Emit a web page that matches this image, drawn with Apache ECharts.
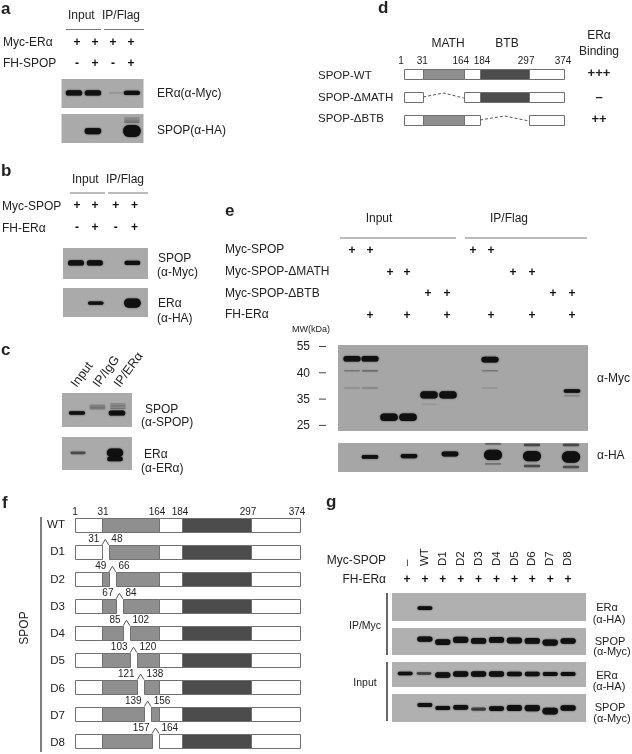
<!DOCTYPE html>
<html><head><meta charset="utf-8">
<style>html,body{margin:0;padding:0;background:#fff}#c{width:632px;height:754px;filter:blur(.4px)}</style>
<script src="https://cdn.jsdelivr.net/npm/echarts@6/dist/echarts.min.js"></script>
</head><body><div id="c"></div>
<script>
// ---------- DATA ----------
// Bands: [lane, vertical position in blot (% from top), band intensity 0..1]
const bandsA1 = [[0,48,.42],[.98,48,.42],[2.2,48,.03],[3,48,.32]];
const bandsA2 = [[.98,59,.5],[3,59,1],[3,14,.06],[3,21,.07],[3,28,.1]];
const bandsB1 = [[0,48,.42],[1,48,.42],[3,48,.32]];
const bandsB2 = [[1.05,52,.25],[3,52,.75]];
const bandsC1 = [[0,59,.27],[1.05,36,.06],[1.05,41,.09],[1.05,46,.08],[2.05,59,.4],[2.1,32,.05],[2.1,38,.08],[2.1,45,.09]];
const bandsC2 = [[0,48,.18],[2,48,.7],[2,67,.35]];
const bandsE1 = [[0,16,.45],[0,30,.08],[0,50,.04],[.9,16,.45],[.9,30,.1],[.9,50,.06],
  [1.85,84,.62],[2.8,84,.62],[3.85,58,.58],[4.8,58,.58],[3.85,69,.02],
  [6.9,17,.45],[6.9,30,.08],[6.9,50,.03],[11,53.5,.25],[11,59,.06]];
const bandsE2 = [[.9,48,.28],[2.85,45,.33],[4.9,38,.38],
  [7.05,41,.85],[7.05,3,.12],[7.05,72,.09],[9,45,.85],[9,7,.18],[9,79,.18],
  [10.95,48,.95],[10.95,7,.18],[10.95,83,.17]];
const bandsG1 = [[1,54,.3]];
const bandsG2 = [[1,41,.42],[2,52,.45],[3,44,.48],[4,48,.45],[5,44,.45],[6,46,.48],[7,48,.45],[8,54,.5],[9,48,.42]];
const bandsG3 = [[-.1,46,.25],[.95,46,.2],[2,52,.42],[3,48,.42],[4,48,.42],[5,48,.42],[6,48,.36],[7,48,.36],[8,48,.32],[9,48,.32]];
const bandsG4 = [[1,39,.3],[2,50,.3],[3,48,.36],[4,54,.22],[5,52,.36],[6,50,.46],[7,50,.5],[8,61,.55],[9,50,.42]];

// Treatment grids
const rowsA = ['Myc-ERα','FH-SPOP'];
const signsA = [['+','+','+','+'],['-','+','-','+']];
const rowsB = ['Myc-SPOP','FH-ERα'];
const signsB = [['+','+','+','+'],['-','+','-','+']];
const rowsE = ['Myc-SPOP','Myc-SPOP-ΔMATH','Myc-SPOP-ΔBTB','FH-ERα'];
const signsE = [
  ['+','+','','','','','+','+','','','',''],
  ['','','+','+','','','','','+','+','',''],
  ['','','','','+','+','','','','','+','+'],
  ['','+','','+','','+','','+','','+','','+']];
const lanesG = ['–','WT','D1','D2','D3','D4','D5','D6','D7','D8'];
const signsG = [['+','+','+','+','+','+','+','+','+','+']];
const mwTicks = ['55','40','35','25'];

// SPOP constructs (residues)
const residueMarks = [1,31,164,184,297,374];
const mathDomain = [31,164];
const btbDomain = [184,297];
const rowsD = ['SPOP-WT','SPOP-ΔMATH','SPOP-ΔBTB'];
const deletionsD = [null,[31,164],[184,297]];
const bindingD = ['+++','–','++'];
const rowsF = ['WT','D1','D2','D3','D4','D5','D6','D7','D8'];
const deletionsF = [null,[31,48],[49,66],[67,84],[85,102],[103,120],[121,138],[139,156],[157,164]];

// ---------- SCALES / BUILDERS ----------
const FONT = '"Liberation Sans", Arial, sans-serif';
const INK = '#222';
// The schematic is not drawn to scale: residue -> schematic unit (0..225)
const schemStops = [[1,0],[31,27],[156,76],[164,84],[184,107],[297,176],[374,225]];
function schem(r){
  for(let i=1;i<schemStops.length;i++){
    const a=schemStops[i-1],b=schemStops[i];
    if(r<=b[0]) return a[1]+(r-a[0])*(b[1]-a[1])/(b[0]-a[0]);
  }
  return 225;
}
const grid=[],xAxis=[],yAxis=[],series=[],graphic=[];
function addGrid(box,xr,yr,bg){
  const i=grid.length;
  grid.push({left:box[0],top:box[1],width:box[2],height:box[3],show:!!bg,backgroundColor:bg||'transparent',borderWidth:0,containLabel:false});
  xAxis.push({type:'value',gridIndex:i,min:xr[0],max:xr[1],show:false});
  yAxis.push({type:'value',gridIndex:i,min:yr[0],max:yr[1],inverse:true,show:false});
  return i;
}
function blot(box,lane0,pitch,bands,bg){
  const i=addGrid(box,[(box[0]-lane0)/pitch,(box[0]+box[2]-lane0)/pitch],[0,100],bg||'#aaaaaa');
  series.push({type:'custom',xAxisIndex:i,yAxisIndex:i,silent:true,data:bands,
    renderItem(p,api){
      const c=api.coord([api.value(0),api.value(1)]);
      const I=api.value(2);
      const w=pitch*(.8+.12*I), h=Math.max(1.6,.5+11.5*I);
      const op=I>=.25?1:Math.max(.05,I/.25*.6);
      return {type:'rect',shape:{x:c[0]-w/2,y:c[1]-h/2,width:w,height:h,r:h/2},
        style:{fill:'#101010',opacity:op,shadowBlur:1.6,shadowColor:'rgba(10,10,10,.9)'}};
    }});
}
function signs(x0,pitch,y0,rowPitch,table,lanes,size){
  const n=table[0].length;
  const i=addGrid([x0-pitch,y0-rowPitch/2,pitch*(n+1),rowPitch*table.length],[-1,n],[-.5,table.length-.5]);
  const data=[];
  table.forEach((row,r)=>row.forEach((s,l)=>{ if(s) data.push([lanes?lanes[l]:l,r,s]); }));
  series.push({type:'custom',xAxisIndex:i,yAxisIndex:i,silent:true,data,
    renderItem(p,api){
      const c=api.coord([api.value(0),api.value(1)]);
      return {type:'text',style:{text:data[p.dataIndex][2],x:c[0],y:c[1],align:'center',verticalAlign:'middle',
        font:'bold '+(size||12)+'px '+FONT,fill:'#111'}};
    }});
}
function segmentsFor(del){
  const base=[[1,31,0],[mathDomain[0],mathDomain[1],1],[164,184,0],[btbDomain[0],btbDomain[1],2],[297,374,0]];
  if(!del) return base;
  const out=[];
  base.forEach(s=>{
    if(del[1]<=s[0]||del[0]>=s[1]){out.push(s);return;}
    if(del[0]>s[0]) out.push([s[0],del[0],s[2]]);
    if(del[1]<s[1]) out.push([del[1],s[1],s[2]]);
  });
  return out;
}
const KIND=['#ffffff','#8f8f8f','#4c4c4c'];
function diagram(box,rows,dels,barH,opt){
  const i=addGrid(box,[0,225],[-.5,rows.length-.5]);
  const segs=[];
  dels.forEach((d,r)=>segmentsFor(d).forEach(s=>segs.push([schem(s[0]),schem(s[1]),r,s[2]])));
  series.push({type:'custom',xAxisIndex:i,yAxisIndex:i,silent:true,data:segs,
    renderItem(p,api){
      const a=api.coord([api.value(0),api.value(2)]),b=api.coord([api.value(1),api.value(2)]);
      return {type:'rect',shape:{x:Math.round(a[0])+.5,y:Math.round(a[1]-barH/2)+.5,width:Math.round(b[0]-a[0]),height:barH},
        style:{fill:KIND[api.value(3)],stroke:'#707070',lineWidth:1}};
    }});
  // deletion markers
  const dd=[];
  dels.forEach((d,r)=>{ if(d) dd.push([schem(d[0]),schem(d[1]),r,d[0],d[1]]); });
  series.push({type:'custom',xAxisIndex:i,yAxisIndex:i,silent:true,data:dd,
    renderItem(p,api){
      const a=api.coord([api.value(0),api.value(2)]),b=api.coord([api.value(1),api.value(2)]);
      const mid=(a[0]+b[0])/2, y=a[1], top=y-barH/2, kids=[];
      if(opt.dashed){
        kids.push({type:'polyline',shape:{points:[[a[0],y],[mid,y-4],[b[0],y+1]]},
          style:{fill:null,stroke:'#555',lineWidth:1,lineDash:[3,2]}});
      }else{
        kids.push({type:'polyline',shape:{points:[[a[0],top],[mid,top-5.5],[b[0],top]]},
          style:{fill:null,stroke:'#555',lineWidth:1}});
        kids.push({type:'text',style:{text:String(api.value(3)),x:mid-6,y:top-5.5,align:'right',verticalAlign:'middle',font:opt.numFont,fill:INK}});
        kids.push({type:'text',style:{text:String(api.value(4)),x:mid+6,y:top-5.5,align:'left',verticalAlign:'middle',font:opt.numFont,fill:INK}});
      }
      return {type:'group',children:kids};
    }});
  // residue numbers above first row
  series.push({type:'custom',xAxisIndex:i,yAxisIndex:i,silent:true,data:residueMarks.map(r=>[schem(r),0]),
    renderItem(p,api){
      const c=api.coord([api.value(0),api.value(1)]);
      return {type:'text',style:{text:String(residueMarks[p.dataIndex]),x:c[0]+opt.numNudge[p.dataIndex],y:c[1]-opt.numUp,align:'center',verticalAlign:'middle',font:opt.numFont,fill:INK}};
    }});
}
// text helper
function T(text,x,y,size,align,extra){
  graphic.push(Object.assign({type:'text',x,y,silent:true,style:{text,font:(extra&&extra.bold?'bold ':'')+size+'px '+FONT,
    fill:INK,align:align||'left',verticalAlign:'middle'}},extra&&extra.rot?{rotation:extra.rot}:{}));
}
function L(x1,y1,x2,y2,w,col){
  graphic.push({type:'line',silent:true,shape:{x1,y1,x2,y2},style:{stroke:col||'#777',lineWidth:w||1}});
}

// ---------- PANEL a ----------
T('a',1,9,17,'left',{bold:1});
T('Input',68,16,12); T('IP/Flag',102,16,12);
L(66,29.5,101,29.5); L(104,29.5,144,29.5);
rowsA.forEach((r,i)=>T(r,3,43+i*21,12));
signs(77,18,43,21,signsA);
blot([61.5,79,82,29],74,19.3,bandsA1);
blot([61.5,114,82,29],74,19.3,bandsA2);
T('ERα(α-Myc)',157,94,12); T('SPOP(α-HA)',157,131,12);

// ---------- PANEL b ----------
T('b',1,171,17,'left',{bold:1});
T('Input',72,180,12); T('IP/Flag',106,180,12);
L(70,193,105,193); L(108,193,148,193);
rowsB.forEach((r,i)=>T(r,2,207+i*22,12));
signs(77,18,206,22,signsB,[0,1,2.15,3.2]);
blot([63,248,85,31],76,18.8,bandsB1);
blot([63,288,85,29],76,18.8,bandsB2);
T('SPOP',158,259,12); T('(α-Myc)',157,273,12);
T('ERα',158,304,12); T('(α-HA)',157,319,12);

// ---------- PANEL c ----------
T('c',1,350,17,'left',{bold:1});
T('Input',74,386,12.5,'left',{rot:.94}); T('IP/IgG',96,386,12.5,'left',{rot:.94}); T('IP/ERα',117,386,12.5,'left',{rot:.94});
blot([62,393,70,34],77,19.5,bandsC1);
blot([62,437,70,33],78,18.5,bandsC2);
T('SPOP',145,410,12); T('(α-SPOP)',141,423,12);
T('ERα',144,455,12); T('(α-ERα)',141,469,12);

// ---------- PANEL d ----------
T('d',378,8,17,'left',{bold:1});
T('MATH',448,44,12,'center'); T('BTB',507,44,12,'center');
T('ERα',599,36,12,'center'); T('Binding',599,52,12,'center');
rowsD.forEach((r,i)=>{T(r,318,[76,98,119][i],11.5); T(bindingD[i],599,[73,97,119][i],13,'center',{bold:1});});
diagram([404,62.5,160,69],rowsD,deletionsD,10,{dashed:true,numFont:'10px '+FONT,numNudge:[-3,-1,-3,2,-3,-1],numUp:13});

// ---------- PANEL e ----------
T('e',225,211,17,'left',{bold:1});
T('Input',379,219,12,'center'); T('IP/Flag',509,219,12,'center');
L(340,238,456,238); L(465,238,587,238);
rowsE.forEach((r,i)=>T(r,225,250+i*21.7,12));
signs(352,20,250.5,21.7,signsE,[0,.9,1.9,2.75,3.8,4.75,6.05,6.95,8.05,9,10.05,11]);
T('MW(kDa)',292,330,9);
mwTicks.forEach((t,i)=>{T(t,310,347+i*26.3,12,'right'); L(319,346.5+i*26.3,326,346.5+i*26.3,1,'#444');});
blot([338,345,250,86],352,20,bandsE1,'#a6a6a6');
blot([338,443,250,29],352,20,bandsE2,'#a6a6a6');
T('α-Myc',597,379,12); T('α-HA',597,456,12);

// ---------- PANEL f ----------
T('f',2,503,17,'left',{bold:1});
T('SPOP',25,628,12,'center',{rot:Math.PI/2});
L(41,517,41,752,1.5,'#555');
rowsF.forEach((r,i)=>T(r,65,525+i*27.25,11.5,'right'));
diagram([75,511.4,225,245.25],rowsF,deletionsF,14,{dashed:false,numFont:'10px '+FONT,numNudge:[0,1,-2,-2,-3,-3],numUp:13});

// ---------- PANEL g ----------
T('g',326,502,17,'left',{bold:1});
T('Myc-SPOP',386,561,12,'right'); T('FH-ERα',386,580,12,'right');
lanesG.forEach((l,i)=>T(l,407+i*17.9,566,11.5,'left',{rot:Math.PI/2}));
signs(407,17.9,580,18,signsG);
L(387,593,387,655,2,'#666'); L(387,662,387,721,2,'#666');
T('IP/Myc',365,626,10.5,'center'); T('Input',365,683,10.5,'center');
blot([392,593,194,28],407,17.9,bandsG1,'#b0b0b0');
blot([392,628,194,27],407,17.9,bandsG2,'#b0b0b0');
blot([392,662,194,25],407,17.9,bandsG3,'#b0b0b0');
blot([392,694,194,28],407,17.9,bandsG4,'#b0b0b0');
T('ERα',607,608,11,'center'); T('(α-HA)',609,620,11,'center');
T('SPOP',610,642,11,'center'); T('(α-Myc)',612,652,11,'center');
T('ERα',607,676,11,'center'); T('(α-HA)',609,687,11,'center');
T('SPOP',610,708,11,'center'); T('(α-Myc)',612,719,11,'center');

const chart=echarts.init(document.getElementById('c'),null,{width:632,height:754,renderer:'canvas'});
chart.setOption({animation:false,backgroundColor:'#fff',grid,xAxis,yAxis,series,graphic:{elements:graphic}});
</script></body></html>
